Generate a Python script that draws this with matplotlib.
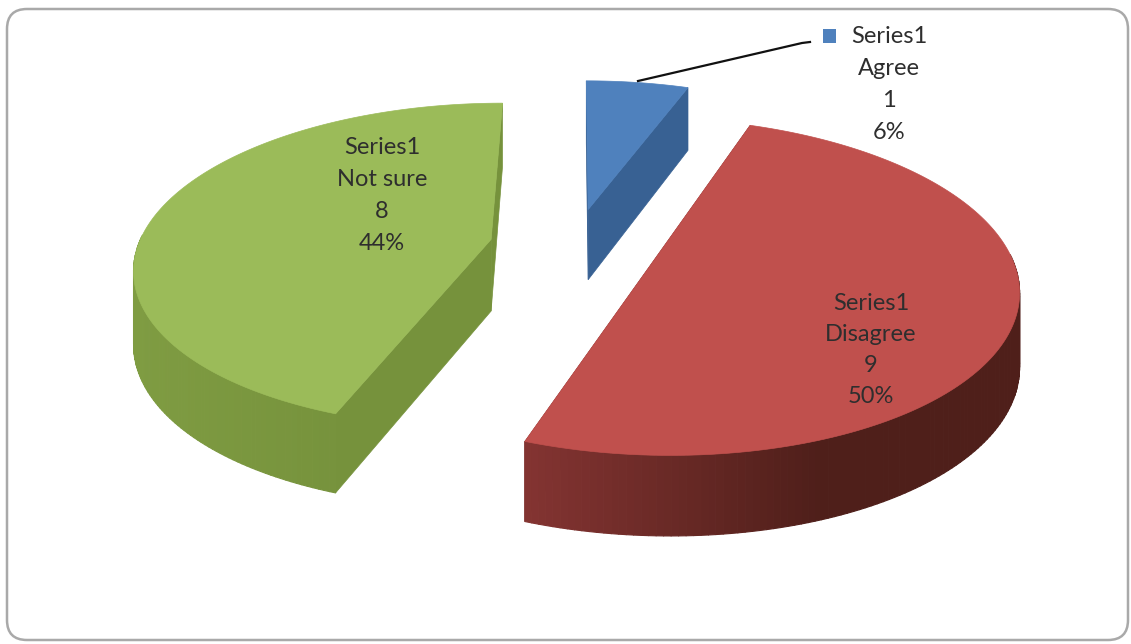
import numpy as np
import matplotlib
matplotlib.use("Agg")
import matplotlib.pyplot as plt
from matplotlib.patches import Polygon, FancyBboxPatch, Rectangle
from matplotlib.collections import PolyCollection

series_name = "Series1"
categories = ["Agree", "Disagree", "Not sure"]
values = [1, 9, 8]
percent_labels = ["6%", "50%", "44%"]

top_colors = ["#4f81bd", "#c0504d", "#9bbb59"]
wall_colors = ["#386193", "#7a2f2d", "#76923c"]
wall_light = ["#386193", "#843432", "#7f9c42"]
wall_dark = ["#386193", "#4f1f1a", "#76923c"]

W, H = 1131, 644
fig = plt.figure(figsize=(W / 100, H / 100), dpi=100, facecolor="white")
ax = fig.add_axes([0, 0, 1, 1])
ax.set_xlim(0, W)
ax.set_ylim(H, 0)
ax.axis("off")

plt.rcParams["font.family"] = ["Lato", "DejaVu Sans"]

ax.add_patch(FancyBboxPatch((7, 9), 1121, 631,
                            boxstyle="round,pad=0,rounding_size=20",
                            fc="white", ec="#a9a9a9", lw=1.8))

# projection of the tilted pie disc
VX, VY, A, B, K, DEPTH, EXPLODE = 574, 246, 353, 160, 0.16, 72, 0.24


def project(X, Y, z=0.0):
    w = 1 + K * Y
    return np.column_stack([VX + A * X / w, VY - B * Y / w + z * DEPTH * (1 - 0.11 * Y)])


total = sum(values)
fracs = np.array(values) / total
ends = np.cumsum(fracs) * 2 * np.pi
starts = ends - fracs * 2 * np.pi


def mix(c1, c2, t):
    a = np.array(matplotlib.colors.to_rgb(c1))
    b = np.array(matplotlib.colors.to_rgb(c2))
    return a + (b - a) * t


def draw_slice(i):
    s, e = starts[i], ends[i]
    mid = (s + e) / 2
    ox, oy = EXPLODE * np.sin(mid), EXPLODE * np.cos(mid)
    th = np.linspace(s, e, 180)
    ax_x = ox + np.sin(th)
    ax_y = oy + np.cos(th)
    cen = project(np.array([ox]), np.array([oy]))
    cen_b = project(np.array([ox]), np.array([oy]), 1)
    rim = project(ax_x, ax_y)
    rim_b = project(ax_x, ax_y, 1)
    # flat cut walls
    for p, pb in ((rim[0], rim_b[0]), (rim[-1], rim_b[-1])):
        ax.add_patch(Polygon([cen[0], p, pb, cen_b[0]], closed=True,
                             fc=wall_colors[i], ec=wall_colors[i], lw=0.5, zorder=2 + i * 0.01))
    # curved outer wall, only the front-facing part
    polys, cols = [], []
    xmin, xmax = rim[:, 0].min(), rim[:, 0].max()
    for j in range(len(th) - 1):
        if np.cos((th[j] + th[j + 1]) / 2) < 0.02 and abs(th[j] - np.pi) < 2.2:
            polys.append([rim[j], rim[j + 1], rim_b[j + 1], rim_b[j]])
            t = min((rim[j, 0] - xmin) / max(xmax - xmin, 1) / 0.6, 1.0)
            cols.append(mix(wall_light[i], wall_dark[i], t))
    if polys:
        ax.add_collection(PolyCollection(polys, facecolors=cols, edgecolors=cols, lw=0.8, zorder=3))
    ax.add_patch(Polygon(np.vstack([cen, rim]), closed=True,
                         fc=top_colors[i], ec=top_colors[i], lw=0.5, zorder=4))


for i in (2, 0, 1):
    draw_slice(i)

# leader line and legend key
ax.plot([638, 802, 810], [81, 43, 42], color="#111111", lw=1.6, zorder=5)
ax.add_patch(Rectangle((823, 29), 13, 14, fc="#4f81bd", ec="none", zorder=5))

fs = 17
txt = "#2e2e2e"


def stack(x, y0, i, dy=32.2):
    lines = [series_name, categories[i], str(values[i]), percent_labels[i]]
    for n, s in enumerate(lines):
        ax.text(x, y0 + n * dy, s, ha="center", va="center", fontsize=fs, color=txt, zorder=6)


stack(889, 36, 0)
stack(871, 303, 1, dy=31)
stack(382, 147, 2)

fig.savefig("out.png", dpi=100, facecolor="white")
